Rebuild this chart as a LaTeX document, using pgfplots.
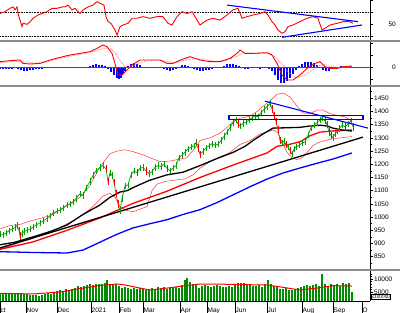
\documentclass[border=0pt]{standalone}
\usepackage{pgfplots}
\pgfplotsset{compat=1.18}
\usepackage{pgfplotstable}
\usepackage{fontspec}
\setmainfont{Liberation Sans}
\definecolor{cgreen}{RGB}{0,160,0}
\definecolor{vgreen}{RGB}{0,140,0}
\definecolor{sepgray}{RGB}{140,140,140}

\pgfplotstableread{
x c
0 935
3 932
6 940
9 948
12 955
15 960
17 968
19 950
20 928
22 938
24 945
27 950
30 955
33 962
36 970
40 978
43 985
47 995
50 1005
53 1015
57 1022
60 1027
63 1035
67 1045
70 1050
73 1058
76 1070
80 1088
83 1082
86 1110
90 1135
93 1158
96 1175
100 1188
103 1195
106 1183
108 1135
110 1168
112 1158
114 1130
116 1090
118 1050
120 1025
122 1070
125 1118
128 1122
131 1160
134 1175
137 1168
140 1185
143 1188
146 1175
149 1165
152 1172
155 1188
158 1195
161 1192
164 1200
167 1185
170 1175
173 1185
176 1195
179 1225
182 1235
185 1245
188 1258
191 1265
194 1270
196 1282
198 1262
200 1238
203 1248
206 1262
209 1270
212 1278
215 1272
218 1276
221 1290
224 1305
227 1322
230 1340
233 1358
236 1368
238 1352
240 1345
243 1355
246 1360
249 1368
252 1376
255 1383
258 1380
261 1395
264 1408
267 1418
270 1430
272 1410
274 1385
276 1362
278 1330
280 1290
282 1280
284 1288
286 1275
288 1265
290 1252
292 1238
294 1258
296 1265
299 1272
302 1280
305 1285
308 1310
311 1338
314 1348
317 1358
320 1368
322 1375
325 1365
327 1350
329 1322
331 1310
333 1302
335 1315
337 1325
339 1335
342 1348
345 1342
348 1352
351 1365
353 1342
}\price

\pgfplotstableread{
x c
20 928
106 1183
108 1135
114 1130
116 1090
118 1050
137 1168
146 1175
167 1185
198 1262
200 1238
238 1352
272 1410
274 1385
276 1362
278 1330
280 1290
286 1275
290 1252
325 1365
327 1350
329 1322
331 1310
345 1342
353 1342
}\pricedown

\pgfplotstableread{
x v
0 955
10 968
20 972
30 985
40 995
50 1005
60 1027
70 1050
80 1075
90 1120
100 1190
105 1215
110 1240
117 1250
125 1255
133 1248
143 1236
150 1225
160 1210
170 1212
180 1220
187 1225
195 1262
200 1290
210 1300
220 1318
227 1340
233 1362
240 1375
250 1382
257 1400
263 1420
270 1440
277 1465
283 1470
290 1455
297 1420
303 1395
310 1392
317 1405
323 1405
330 1392
337 1385
345 1380
352 1362
}\bbup

\pgfplotstableread{
x v
0 880
10 890
20 905
30 915
40 930
50 945
60 960
67 975
75 990
83 1010
90 1030
97 1055
103 1080
110 1090
115 1075
120 1040
127 1025
133 1020
140 1030
147 1040
152 1100
157 1125
165 1135
175 1140
185 1145
193 1160
200 1185
210 1210
220 1228
230 1245
240 1275
250 1290
260 1315
267 1322
273 1330
278 1320
282 1285
287 1245
292 1225
297 1218
302 1225
307 1245
313 1270
318 1282
325 1290
332 1296
340 1300
352 1305
}\bblow

\pgfplotstableread{
x v
0 895
15 905
33 925
50 945
67 970
83 1010
100 1046
110 1075
120 1095
127 1100
135 1115
150 1140
167 1160
183 1170
200 1195
217 1222
233 1245
245 1268
253 1290
263 1315
273 1337
283 1338
300 1340
310 1345
320 1348
327 1345
333 1337
342 1330
352 1326
}\mafifty

\pgfplotstableread{
x v
0 878
33 906
67 950
100 997
133 1052
167 1098
200 1150
233 1197
267 1243
277 1268
290 1276
300 1285
310 1308
320 1322
335 1327
352 1330
}\mahundred

\pgfplotstableread{
x v
0 869
33 866
67 864
83 875
100 905
117 935
133 959
150 975
167 990
183 1010
200 1028
217 1055
233 1084
250 1115
267 1144
283 1167
300 1186
317 1204
333 1220
352 1243
}\matwohundred

\pgfplotstableread{
x v
0 68
5 71
10 76.6
13 79
15 74
17 79
18 68
22 46
23 51.6
27 50
30 54
33 60
38 65.5
42 68
47 71
52 76.6
57 76.6
62 79
65 79
68 82
72 74
75 76.6
80 68
83 74
88 79
93 82
97 87.7
100 85
104 82
106 62.7
108 54.4
111 51.6
115 40.5
117 32
120 46
123 48.8
128 51.6
132 60
137 60
143 62.7
150 60
157 62.7
163 62.7
168 51.6
172 48.8
177 62.7
182 71
187 68
192 71
195 62.7
200 48.8
207 57
213 60
220 57
227 65.5
233 74
238 76.6
242 60
247 62.7
253 65.5
260 68
265 71
268 65.5
272 54.4
275 48.8
278 40.5
282 35
285 37.7
288 46
293 48.8
300 54.4
307 60
313 62.7
318 60
322 40.5
325 43.3
330 48.8
337 51.6
343 54.4
350 54.4
353 51.6
}\rsi

\pgfplotstableread{
x v
0 6
10 7
20 7.7
23 4.3
30 3.7
40 4.3
50 7.7
60 10.3
70 12.7
80 14.3
90 16
97 19.3
103 22.7
107 21
112 14.3
115 4.3
118 -7.3
122 -7.3
127 -2.3
132 2.7
140 7.7
150 7.7
160 7.7
167 4.3
173 4.3
182 8.3
190 11
200 7.7
210 6
220 6
230 9.3
237 14.3
240 17.7
245 14.3
253 14.3
267 15
272 12.7
277 4.3
282 -7.3
287 -12.3
293 -12.3
300 -7.3
307 -0.7
315 4.3
320 6
325 1
330 -0.7
337 -0.7
343 1
352 1.7
}\macd

\pgfplotstableread{
x v
0 5
10 6
20 6.5
27 5.5
35 4.5
45 5.5
55 8
65 10.5
75 12.5
85 14.5
95 16.5
103 19.5
110 19.5
115 15
120 7
125 1
130 0
137 4
145 6.5
155 7.5
165 6.5
175 5
185 7.5
195 9
205 8
215 6.5
225 7
235 10.5
243 14.5
255 14.5
268 14.5
275 11
282 4
288 -4
295 -10
302 -9
310 -4
318 2
325 3
332 1
340 0
352 1
}\signal

\pgfplotstableread{
x v
0 -0.5
3 -0.5
6 -1
9 -0.5
12 -0.5
15 0
18 -1
21 -2
24 -3
27 -3
30 -2.5
33 -2
36 -1.5
39 -1
42 -0.5
45 0
48 0.5
51 1
54 1
57 1
60 1
63 0.5
66 0.5
69 1
72 0.5
75 0.5
78 0.5
81 0.5
84 0.5
87 1
90 2
93 3
96 3.5
99 3
102 2.5
105 1.5
108 -1
111 -4
114 -7
117 -10
119 -11.5
121 -10
123 -6
125 -3
128 2
131 4
134 4.5
137 4
140 2.5
143 1
146 0.5
149 0
152 0.5
155 1
158 0.5
161 0
164 -1
167 -2.5
170 -3
173 -2.5
176 -1
179 1
182 2.5
185 3
188 2
191 0.5
194 -1
197 -2
200 -3
203 -3
206 -2.5
209 -2
212 -1
215 0
218 0.5
221 1
224 2
227 3.5
230 4
233 4
236 3
239 2
242 0.5
245 -0.5
248 -0.5
251 0
254 0.5
257 0
260 -0.5
263 0.5
266 0
269 -1
272 -3
275 -7
278 -12
281 -15
284 -15.5
287 -13
290 -10
293 -6
296 -2
299 2
302 4
305 5.5
308 6
311 5.5
314 4.5
317 2.5
320 0
323 -2.5
326 -3.5
329 -3
332 -1.5
335 0.5
338 1
341 1.5
344 2
347 2
350 1.5
352 1
}\hist

\pgfplotstableread{
x v
0 4500
3 4300
6 4700
9 4400
12 4600
15 4200
18 4800
21 4500
24 4300
27 4100
30 3900
33 3700
36 3900
39 3600
42 4000
45 4200
48 4600
51 4400
54 4900
57 5200
60 5800
63 5500
66 6000
69 5700
72 6200
75 6600
78 7400
81 6900
84 7200
87 7600
90 8000
93 7800
96 8200
99 7900
102 8100
105 8300
107 9600
110 8000
113 7600
116 8200
119 7300
122 6500
125 6800
128 6400
131 6200
134 6600
137 6100
140 6400
143 6000
146 5800
149 6300
152 6500
155 6100
158 6800
161 6600
164 6900
167 6200
170 6500
173 6800
176 7000
179 6700
182 7600
185 9800
187 10400
190 8800
193 8200
196 7600
199 6600
202 7200
205 7800
208 7400
211 7000
214 7500
217 7700
220 7300
223 6900
226 7100
229 7400
232 7000
235 7600
238 8400
241 8600
244 8300
247 8100
250 7700
253 7500
256 7300
259 7800
262 7000
265 8200
268 9600
271 8000
274 7300
277 6800
280 6200
283 6000
286 6400
289 5800
292 5600
295 6300
298 6600
301 7000
304 7400
307 7800
310 7300
313 7600
316 8000
319 7400
322 11900
325 8200
328 7000
331 8100
334 7700
337 7900
340 7500
343 8300
346 8000
349 8400
352 5000
}\vol

\pgfplotstableread{
x v
0 4500
33 4250
60 5000
83 6500
100 7500
117 8080
125 7700
140 6500
150 5770
167 6500
183 7300
200 8080
233 7950
250 7800
267 7700
283 6800
300 5770
317 6500
333 7450
352 7300
}\volma

\pgfplotsset{
  panel/.style={
    scale only axis, width=370pt, xmin=0, xmax=370,
    axis y line*=right,
    tick align=outside, yticklabel pos=right,
    major tick length=3pt, minor tick length=2pt,
    tick style={black, line width=0.5pt},
    ticklabel style={font=\fontsize{6.5}{7}\selectfont, inner sep=1pt},
    /pgf/number format/assume math mode=true,
    scaled y ticks=false,
    clip=true,
    y axis line style={black, line width=0.6pt},
  },
  upper/.style={panel, axis x line=none, xtick=\empty},
}

\begin{document}
\begin{tikzpicture}
\path[use as bounding box] (0,0) rectangle (400pt,-313pt);
\fill[white] (0,0) rectangle (400pt,-313pt);

% RSI
\begin{axis}[upper, at={(0,-40pt)}, anchor=south west, height=40pt,
  ymin=23.8, ymax=90.5, ytick={30,50,70,90}, yticklabels={,50,,},
  yticklabel style={anchor=east, xshift=24pt}]
\addplot[black, densely dotted, line width=0.6pt] coordinates {(0,70) (370,70)};
\addplot[black, densely dotted, line width=0.6pt] coordinates {(0,30) (370,30)};
\addplot[red, line width=0.9pt] table[x=x,y=v] {\rsi};
\addplot[blue, line width=1.1pt] coordinates {(227,82) (358,54.4)};
\addplot[blue, line width=1.1pt] coordinates {(282,28.3) (362,48.8)};
\end{axis}

% MACD
\begin{axis}[upper, at={(0,-86pt)}, anchor=south west, height=44pt,
  ymin=-18.3, ymax=25.7, ytick={-12,0,12,24}, yticklabels={,0,,},
  yticklabel style={anchor=east, xshift=24pt}]
\addplot[blue, ycomb, line width=1.3pt] table[x=x,y=v] {\hist};
\addplot[red, line width=0.5pt] coordinates {(0,0) (370,0)};
\addplot[red!55, densely dotted, line width=0.8pt] table[x=x,y=v] {\signal};
\addplot[red, line width=0.9pt] table[x=x,y=v] {\macd};
\end{axis}

% Price
\begin{axis}[upper, at={(0,-270pt)}, anchor=south west, height=183pt,
  ymin=799.6, ymax=1492.8,
  ytick={850,900,...,1450},
  yticklabels={850,900,950,1000,1050,1100,1150,1200,1250,1300,1350,1400,1450},
  minor ytick={825,875,...,1475}]
\addplot[red!80, line width=0.5pt] table[x=x,y=v] {\bbup};
\addplot[red!80, line width=0.5pt] table[x=x,y=v] {\bblow};
\addplot[blue, line width=1.3pt] table[x=x,y=v] {\matwohundred};
\addplot[red, line width=1.3pt] table[x=x,y=v] {\mahundred};
\addplot[black, line width=1.3pt] coordinates {(0,883) (363,1303)};
\addplot[black, line width=1.3pt] table[x=x,y=v] {\mafifty};
\addplot[cgreen, line width=0.7pt, mark=none,
  error bars/.cd, y dir=both, y fixed=12, error mark=none,
  error bar style={line width=0.8pt, cgreen}] table[x=x,y=c] {\price};
\addplot[draw=none, mark=none,
  error bars/.cd, y dir=both, y fixed=14, error mark=none,
  error bar style={line width=0.9pt, draw=red, solid}] table[x=x,y=c] {\pricedown};
\addplot[blue, line width=1.1pt] coordinates {(229,1368) (363,1368) (363,1384) (229,1384) (229,1368)};
\addplot[blue, line width=1.1pt] coordinates {(265,1439) (368,1337)};
\end{axis}

% Volume
\begin{axis}[panel, at={(0,-301pt)}, anchor=south west, height=30pt,
  ymin=1540, ymax=13077, ytick={5000,10000}, yticklabels={5000,10000},
  minor ytick={3000,4000,6000,7000,8000,9000,11000,12000},
  axis x line*=bottom, x axis line style={black, line width=0.5pt},
  xtick={0,26,57,91,119,143,180,207,235,267,302,333,362},
  xticklabels={ct,Nov,Dec,2021,Feb,Mar,Apr,May,Jun,Jul,Aug,Sep,O},
  xtick style={/pgfplots/major tick length=12pt},
  xticklabel style={anchor=north west, xshift=-0.5pt, yshift=-3pt}]
\addplot[vgreen, ycomb, line width=1.7pt] table[x=x,y=v] {\vol};
\addplot[red, line width=1pt] table[x=x,y=v] {\volma};
\end{axis}

\node[draw=black, fill=white, inner sep=0.5pt, anchor=north west,
  font=\fontsize{4.8}{5}\selectfont] at (371pt,-294.5pt) {x100000};

\draw[sepgray, line width=2pt] (0,-41pt) -- (400pt,-41pt);
\draw[sepgray, line width=2pt] (0,-86.5pt) -- (400pt,-86.5pt);
\draw[sepgray, line width=2pt] (0,-270.5pt) -- (400pt,-270.5pt);
\end{tikzpicture}
\end{document}
